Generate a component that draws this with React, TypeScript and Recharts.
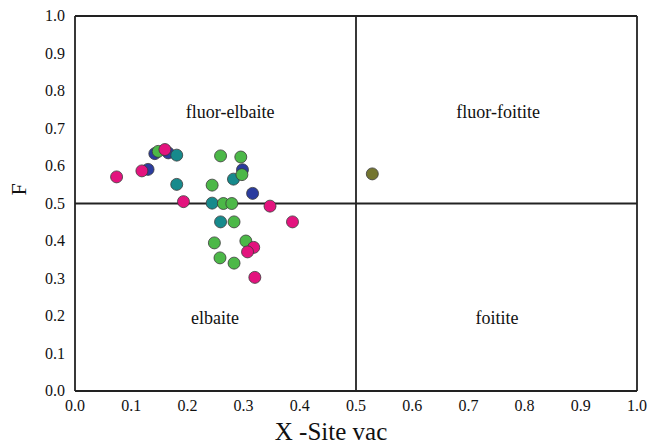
import { ScatterChart, Scatter, XAxis, YAxis, ReferenceLine, ReferenceDot } from "recharts";

// X-site vacancy vs F
const magenta = [
  { x: 0.074, y: 0.571 }, { x: 0.119, y: 0.587 }, { x: 0.16, y: 0.644 },
  { x: 0.193, y: 0.505 }, { x: 0.347, y: 0.493 }, { x: 0.387, y: 0.451 },
  { x: 0.318, y: 0.383 }, { x: 0.307, y: 0.371 }, { x: 0.32, y: 0.303 },
];
const blue = [
  { x: 0.142, y: 0.633 }, { x: 0.13, y: 0.591 }, { x: 0.166, y: 0.635 },
  { x: 0.298, y: 0.59 }, { x: 0.316, y: 0.527 },
];
const teal = [
  { x: 0.181, y: 0.629 }, { x: 0.181, y: 0.551 }, { x: 0.282, y: 0.565 },
  { x: 0.244, y: 0.501 }, { x: 0.259, y: 0.451 },
];
const green = [
  { x: 0.148, y: 0.639 }, { x: 0.259, y: 0.627 }, { x: 0.295, y: 0.624 },
  { x: 0.297, y: 0.577 }, { x: 0.244, y: 0.549 }, { x: 0.264, y: 0.5 },
  { x: 0.279, y: 0.5 }, { x: 0.283, y: 0.451 }, { x: 0.248, y: 0.395 },
  { x: 0.304, y: 0.4 }, { x: 0.258, y: 0.355 }, { x: 0.283, y: 0.341 },
];
const olive = [{ x: 0.529, y: 0.579 }];

const ticks = [0, 0.1, 0.2, 0.3, 0.4, 0.5, 0.6, 0.7, 0.8, 0.9, 1.0];

const fieldLabels = [
  { x: 0.276, y: 0.744, text: "fluor-elbaite" },
  { x: 0.753, y: 0.744, text: "fluor-foitite" },
  { x: 0.249, y: 0.195, text: "elbaite" },
  { x: 0.751, y: 0.195, text: "foitite" },
];

const FONT = '"Liberation Serif", "Times New Roman", serif';

const dot = (fill: string) => (props: any) => (
  <circle cx={props.cx} cy={props.cy} r={6} fill={fill} stroke="#3a3a3a" strokeWidth={0.8} />
);

const XTick = (props: any) => (
  <text x={props.x} y={props.y + 12} textAnchor="middle" fontSize={16} fill="#111" fontFamily={FONT}>
    {Number(props.payload.value).toFixed(1)}
  </text>
);

const YTick = (props: any) => (
  <text x={props.x - 2} y={props.y + 5} textAnchor="end" fontSize={16} fill="#111" fontFamily={FONT}>
    {Number(props.payload.value).toFixed(1)}
  </text>
);

export default function App() {
  return (
    <div style={{ position: "absolute", left: 0, top: 0, background: "#fff", fontFamily: FONT }}>
      <ScatterChart width={652} height={444} margin={{ top: 16, right: 15, bottom: 8, left: 20 }}>
        <XAxis
          type="number"
          dataKey="x"
          domain={[0, 1]}
          ticks={ticks}
          tick={XTick}
          tickLine={false}
          axisLine={{ stroke: "#222", strokeWidth: 1.8 }}
          height={45}
          label={{ value: "X -Site vac", position: "insideBottom", offset: -4, dx: -25, fontSize: 25, fill: "#111", fontFamily: FONT }}
        />
        <YAxis
          type="number"
          dataKey="y"
          domain={[0, 1]}
          ticks={ticks}
          tick={YTick}
          tickLine={false}
          axisLine={{ stroke: "#222", strokeWidth: 1.8 }}
          width={55}
          label={{ value: "F", angle: -90, position: "insideLeft", offset: -2, dy: -8, fontSize: 22, fill: "#111", fontFamily: FONT }}
        />
        <ReferenceLine x={1} stroke="#222" strokeWidth={1.8} />
        <ReferenceLine y={1} stroke="#222" strokeWidth={1.8} />
        <ReferenceLine x={0.5} stroke="#222" strokeWidth={1.8} />
        <ReferenceLine y={0.5} stroke="#222" strokeWidth={1.8} />
        {fieldLabels.map((l) => (
          <ReferenceDot
            key={l.text}
            x={l.x}
            y={l.y}
            r={0}
            fill="none"
            stroke="none"
            label={{ value: l.text, position: "center", fontSize: 18, fill: "#111", fontFamily: FONT }}
          />
        ))}
        <Scatter data={blue} shape={dot("#2b3c9e")} isAnimationActive={false} />
        <Scatter data={teal} shape={dot("#178a8c")} isAnimationActive={false} />
        <Scatter data={green} shape={dot("#4cb848")} isAnimationActive={false} />
        <Scatter data={magenta} shape={dot("#e3137e")} isAnimationActive={false} />
        <Scatter data={olive} shape={dot("#737530")} isAnimationActive={false} />
      </ScatterChart>
    </div>
  );
}
